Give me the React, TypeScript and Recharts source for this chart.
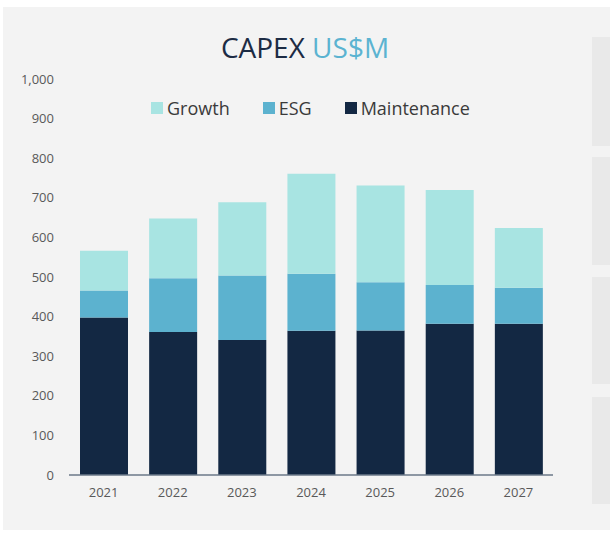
import { BarChart, Bar, XAxis, YAxis } from 'recharts';

const years = ['2021', '2022', '2023', '2024', '2025', '2026', '2027'];
const maintenance = [398, 361, 341, 364, 365, 382, 382];
const esg = [68, 136, 163, 144, 122, 98, 91];
const growth = [100, 151, 185, 253, 244, 240, 151];
const yTicks = [0, 100, 200, 300, 400, 500, 600, 700, 800, 900, 1000];

const series = [
  { key: 'maintenance', label: 'Maintenance', color: '#132843' },
  { key: 'esg', label: 'ESG', color: '#5cb2cf' },
  { key: 'growth', label: 'Growth', color: '#a8e4e2' },
];

const data = years.map((y, i) => ({
  year: y,
  maintenance: maintenance[i],
  esg: esg[i],
  growth: growth[i],
}));

const font = '"Open Sans", "Noto Sans", sans-serif';
const sideBoxes = [
  [37, 109],
  [157, 108],
  [277, 107],
  [397, 107],
];

export default function App() {
  return (
    <div
      style={{
        position: 'absolute',
        left: 0,
        top: 0,
        width: 610,
        height: 538,
        background: '#fff',
        fontFamily: font,
        overflow: 'hidden',
      }}
    >
      <div
        style={{
          position: 'absolute',
          left: 3,
          top: 7,
          width: 607,
          height: 523,
          background: '#f3f3f3',
        }}
      />
      {sideBoxes.map(([t, h]) => (
        <div
          key={t}
          style={{
            position: 'absolute',
            left: 592,
            top: t,
            width: 18,
            height: h,
            background: '#e9e9e9',
          }}
        />
      ))}
      <div
        style={{
          position: 'absolute',
          left: 0,
          width: 610,
          top: 27,
          textAlign: 'center',
          fontSize: 28,
          lineHeight: '40px',
          color: '#1c2b44',
        }}
      >
        CAPEX <span style={{ color: '#5bb3d1' }}>US$M</span>
      </div>
      <div
        style={{
          position: 'absolute',
          left: 151,
          top: 95,
          display: 'flex',
          alignItems: 'center',
          fontSize: 18,
          lineHeight: '26px',
          color: '#3a3a3a',
          zIndex: 2,
        }}
      >
        {[...series].reverse().map((s) => (
          <div key={s.key} style={{ display: 'flex', alignItems: 'center', marginRight: 33 }}>
            <span
              style={{
                display: 'inline-block',
                width: 12,
                height: 12,
                background: s.color,
                marginRight: 4,
              }}
            />
            {s.label}
          </div>
        ))}
      </div>
      <BarChart
        width={610}
        height={538}
        data={data}
        margin={{ top: 79, right: 57, bottom: 33, left: 0 }}
        style={{ position: 'absolute', left: 0, top: 0 }}
      >
        <XAxis
          dataKey="year"
          tickLine={false}
          tickSize={0}
          tickMargin={13}
          axisLine={{ stroke: '#6b7889', strokeWidth: 1.5 }}
          tick={{ fontSize: 13, fill: '#595959', fontFamily: font }}
        />
        <YAxis
          width={69}
          domain={[0, 1000]}
          ticks={yTicks}
          tickFormatter={(v: number) => v.toLocaleString('en-US')}
          tickLine={false}
          tickSize={0}
          tickMargin={15}
          axisLine={false}
          tick={{ fontSize: 13, fill: '#595959', fontFamily: font }}
        />
        {series.map((s) => (
          <Bar
            key={s.key}
            dataKey={s.key}
            stackId="capex"
            fill={s.color}
            barSize={48}
            isAnimationActive={false}
          />
        ))}
      </BarChart>
    </div>
  );
}
